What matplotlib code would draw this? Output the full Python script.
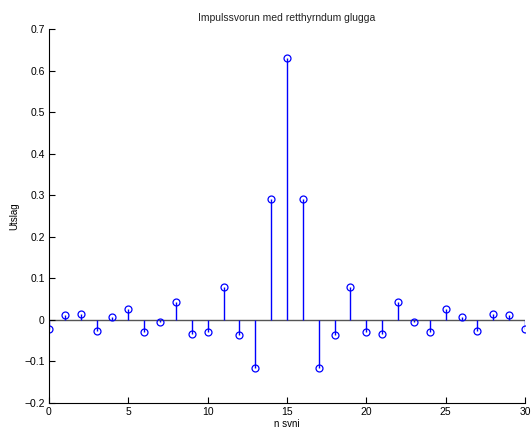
import matplotlib
matplotlib.use("Agg")
import matplotlib.pyplot as plt
import numpy as np

plt.rcParams['font.family'] = ['Liberation Sans', 'DejaVu Sans']

n = list(range(31))
h = [-0.021, 0.012, 0.014, -0.026, 0.006, 0.026, -0.030, -0.005, 0.044, -0.034,
     -0.029, 0.079, -0.036, -0.116, 0.292, 0.630, 0.292, -0.116, -0.036, 0.079,
     -0.029, -0.034, 0.044, -0.005, -0.030, 0.026, 0.006, -0.026, 0.014, 0.012, -0.021]
xticks = [0, 5, 10, 15, 20, 25, 30]
yticks = [-0.2, -0.1, 0, 0.1, 0.2, 0.3, 0.4, 0.5, 0.6, 0.7]
ytick_labels = ['\u22120.2', '\u22120.1', '0', '0.1', '0.2', '0.3', '0.4', '0.5', '0.6', '0.7']

fig = plt.figure(figsize=(5.31, 4.30), dpi=100)
ax = fig.add_axes([49/531, 1-403/430, (525-49)/531, (403-29)/430])

markerline, stemlines, baseline = ax.stem(n, h, linefmt='b-', markerfmt='bo', basefmt='-')
markerline.set_markerfacecolor('none')
markerline.set_markeredgecolor('blue')
markerline.set_markersize(5)
markerline.set_markeredgewidth(0.9)
stemlines.set_linewidth(1.0)
baseline.set_color('#555555')
baseline.set_linewidth(1.0)
baseline.set_zorder(1)

ax.set_xlim(0, 30)
ax.set_ylim(-0.2, 0.7)
ax.set_xticks(xticks)
ax.set_yticks(yticks)
ax.set_yticklabels(ytick_labels)
ax.spines['top'].set_visible(False)
ax.spines['right'].set_visible(False)
ax.spines['left'].set_linewidth(0.8)
ax.spines['bottom'].set_linewidth(0.8)
ax.tick_params(direction='in', length=4, width=0.8, labelsize=7.5, pad=3)

ax.set_title('Impulssvorun med retthyrndum glugga', fontsize=7.5, pad=6, color='#222222')
ax.set_xlabel('n svni', fontsize=7, labelpad=1)
ax.set_ylabel('Utslag', fontsize=7, labelpad=4)

fig.savefig('out.png', dpi=100)
